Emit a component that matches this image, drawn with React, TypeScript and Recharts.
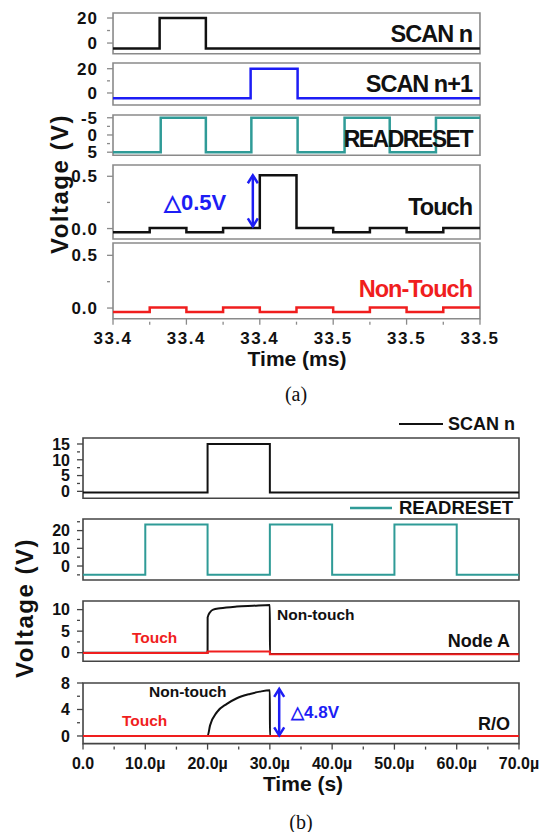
import React from "react";
import { LineChart, Line, XAxis, YAxis, ReferenceArea, ReferenceLine } from "recharts";

// ---------- (a) time in ms ----------
const aScanNT = [33.4, 33.4127, 33.4253, 33.5];
const aScanNV = [-4.3, 20, -4.3, -4.3];
const aScanN1T = [33.4, 33.4375, 33.4503, 33.5];
const aScanN1V = [-4.4, 20, -4.4, -4.4];
const aReadResetT = [33.4, 33.413, 33.4253, 33.4377, 33.4503, 33.4631, 33.4754, 33.488, 33.5];
const aReadResetV = [5, -5, 5, -5, 5, -5, 5, -5, -5];
const aStepT = [33.4, 33.41, 33.42, 33.43, 33.44, 33.45, 33.46, 33.47, 33.48, 33.49, 33.5];
const aTouchV = [-0.035, 0.005, -0.035, 0.005, 0.51, 0.005, -0.035, 0.005, -0.035, 0.005, 0.005];
const aNonTouchV = [-0.038, 0.005, -0.038, 0.005, -0.038, 0.005, -0.038, 0.005, -0.038, 0.005, 0.005];
const aTopTicks = [33.4187, 33.45, 33.4815];

// ---------- (b) time in µs ----------
const bScanT = [0, 20, 30, 70];
const bScanV = [-0.4, 15, -0.4, -0.4];
const bReadResetT = [0, 10, 20, 30, 40, 50, 60, 70];
const bReadResetV = [-5, 23.5, -5, 23.5, -5, 23.5, -5, -5];
const bNodeANonTouchT = [0, 20, 20.01, 20.4, 20.9, 22, 24.7, 27.3, 30, 30.01, 70];
const bNodeANonTouchV = [0, 0, 8.2, 9.4, 10, 10.3, 10.7, 10.9, 11.1, -0.3, -0.3];
const bNodeATouchT = [0, 20, 30, 70];
const bNodeATouchV = [-0.1, 0.25, -0.35, -0.35];
const bRONonTouchT = [0, 20, 20.4, 21.5, 23.1, 24.7, 26.8, 28.4, 30, 30.01, 70];
const bRONonTouchV = [0, 0, 1.6, 3.6, 4.85, 5.7, 6.35, 6.7, 6.9, 0, 0];
const bROTouchT = [0, 70];
const bROTouchV = [0, 0];
const bXTicks = [0, 5, 10, 15, 20, 25, 30, 35, 40, 45, 50, 55, 60, 65, 70];

const FONT = "'Liberation Sans', Arial, sans-serif";
const BLACK = "#111";
const BLUE = "#1d1df5";
const TEAL = "#2f9b97";
const RED = "#f01e1e";
const PAD = 12;

const pts = (t: number[], v: number[]) => t.map((x, i) => ({ t: x, v: v[i] }));

type Series = { data: { t: number; v: number }[]; color: string; width: number; curve: any };
type PanelProps = {
  left: number; right: number; top: number; bottom: number;
  xDomain: [number, number]; xTicks: number[]; xMajor: (v: number) => boolean;
  xLabel?: (v: number) => string; xFont?: number; xSpacing?: number;
  yDomain: [number, number]; yTicks: number[]; yMajor: number[]; yFmt: (v: number) => string;
  yFont: number; yGap: number; ySpacing?: number; reversed?: boolean;
  frame: string; series: Series[]; arrow?: { x: number; y1: number; y2: number };
};

const arrowShape = (p: any) => {
  const x = p.x1;
  const top = Math.min(p.y1, p.y2);
  const bot = Math.max(p.y1, p.y2);
  return (
    <g stroke={BLUE} strokeWidth={2.5} fill="none">
      <line x1={x} y1={top} x2={x} y2={bot} />
      <polyline points={`${x - 5},${top + 8} ${x},${top} ${x + 5},${top + 8}`} />
      <polyline points={`${x - 5},${bot - 8} ${x},${bot} ${x + 5},${bot - 8}`} />
    </g>
  );
};

const Panel = (p: PanelProps) => {
  const axisH = p.xLabel ? 34 : 0;
  const h = p.bottom - p.top + PAD * 2 + axisH;
  const XTick = (t: any) => {
    const v = t.payload.value;
    const major = p.xMajor(v);
    return (
      <g>
        <line x1={t.x} y1={t.y} x2={t.x} y2={t.y - (major ? 6 : 3)} stroke={p.frame} strokeWidth={1.3} />
        {p.xLabel && major && (
          <text x={t.x} y={t.y + 7} dy="0.75em" textAnchor="middle" fontFamily={FONT} fontWeight="bold"
            fontSize={p.xFont} letterSpacing={p.xSpacing || 0} fill={BLACK}>
            {p.xLabel(v)}
          </text>
        )}
      </g>
    );
  };
  const YTick = (t: any) => {
    const v = t.payload.value;
    const major = p.yMajor.includes(v);
    return (
      <g>
        <line x1={t.x} y1={t.y} x2={t.x + (major ? 6 : 3)} y2={t.y} stroke={p.frame} strokeWidth={1.3} />
        {major && (
          <text x={t.x - p.yGap} y={t.y} dy="0.36em" textAnchor="end" fontFamily={FONT} fontWeight="bold"
            fontSize={p.yFont} letterSpacing={p.ySpacing || 0} fill={BLACK}>
            {p.yFmt(v)}
          </text>
        )}
      </g>
    );
  };
  return (
    <div style={{ position: "absolute", left: 0, top: p.top - PAD }}>
      <LineChart width={553} height={h} margin={{ top: PAD, right: 553 - p.right, bottom: PAD, left: 0 }}>
        <XAxis type="number" dataKey="t" domain={p.xDomain} allowDataOverflow ticks={p.xTicks} interval={0}
          height={axisH} axisLine={false} tickLine={false} tickMargin={0} tick={XTick} />
        <YAxis type="number" dataKey="v" domain={p.yDomain} allowDataOverflow ticks={p.yTicks} interval={0}
          width={p.left} reversed={p.reversed} axisLine={false} tickLine={false} tickMargin={0} tick={YTick} />
        <ReferenceArea x1={p.xDomain[0]} x2={p.xDomain[1]} y1={p.yDomain[0]} y2={p.yDomain[1]}
          fill="none" stroke={p.frame} strokeWidth={1.6} ifOverflow="visible" />
        {p.series.map((s, i) => (
          <Line key={i} data={s.data} dataKey="v" type={s.curve} stroke={s.color} strokeWidth={s.width}
            dot={false} isAnimationActive={false} />
        ))}
        {p.arrow && (
          <ReferenceLine segment={[{ x: p.arrow.x, y: p.arrow.y1 }, { x: p.arrow.x, y: p.arrow.y2 }]}
            shape={arrowShape} ifOverflow="visible" />
        )}
      </LineChart>
    </div>
  );
};

const A = { left: 113, right: 480, frame: "#8a8a8a" };
const B = { left: 83, right: 519, frame: "#444" };

const aCommon = {
  ...A, xDomain: [33.4, 33.5] as [number, number], yFont: 17, yGap: 9, ySpacing: 1,
  xMajor: () => true, xTicks: aTopTicks,
};
const aStepMajor = (v: number) => Math.round((v - 33.4) / 0.01) % 2 === 0;
const intFmt = (v: number) => String(v);
const oneFmt = (v: number) => v.toFixed(1);

const bCommon = {
  ...B, xDomain: [0, 70] as [number, number], xTicks: bXTicks, yFont: 16, yGap: 7,
  xMajor: (v: number) => v % 10 === 0,
};

const T = (props: any) => (
  <text fontFamily={FONT} fontWeight="bold" fill={BLACK} {...props} />
);

export default function App() {
  return (
    <div style={{ position: "absolute", left: 0, top: 0, width: 553, height: 832, background: "#fff", overflow: "hidden" }}>
      {/* ----- (a) ----- */}
      <Panel {...aCommon} top={13.3} bottom={54} yDomain={[-8.5, 24]} yTicks={[0, 10, 20]} yMajor={[0, 20]} yFmt={intFmt}
        series={[{ data: pts(aScanNT, aScanNV), color: BLACK, width: 2.5, curve: "stepAfter" }]} />
      <Panel {...aCommon} top={63.3} bottom={105.3} yDomain={[-9.9, 24.7]} yTicks={[0, 10, 20]} yMajor={[0, 20]} yFmt={intFmt}
        series={[{ data: pts(aScanN1T, aScanN1V), color: BLUE, width: 2.5, curve: "stepAfter" }]} />
      <Panel {...aCommon} top={115} bottom={155.3} yDomain={[-5.8, 5.9]} reversed yTicks={[-5, -2.5, 0, 2.5, 5]} yMajor={[-5, 0, 5]}
        yFmt={intFmt} series={[{ data: pts(aReadResetT, aReadResetV), color: TEAL, width: 2.5, curve: "stepAfter" }]} />
      <Panel {...aCommon} top={164.7} bottom={238.7} yDomain={[-0.1, 0.608]} yTicks={[0, 0.25, 0.5]} yMajor={[0, 0.5]} yFmt={oneFmt}
        xTicks={aStepT} xMajor={aStepMajor}
        series={[{ data: pts(aStepT, aTouchV), color: BLACK, width: 2.5, curve: "stepAfter" }]}
        arrow={{ x: 33.4381, y1: 0.02, y2: 0.51 }} />
      <Panel {...aCommon} top={243.3} bottom={319} yDomain={[-0.101, 0.617]} yTicks={[0, 0.25, 0.5]} yMajor={[0, 0.5]} yFmt={oneFmt}
        xTicks={aStepT} xMajor={aStepMajor} xLabel={oneFmt} xFont={17} xSpacing={1.5}
        series={[{ data: pts(aStepT, aNonTouchV), color: RED, width: 2.5, curve: "stepAfter" }]} />

      {/* ----- (b) ----- */}
      <Panel {...bCommon} top={437.7} bottom={498} yDomain={[-2.2, 16.9]} yTicks={[0, 2.5, 5, 7.5, 10, 12.5, 15]} yMajor={[0, 5, 10, 15]}
        yFmt={intFmt} series={[{ data: pts(bScanT, bScanV), color: BLACK, width: 2, curve: "stepAfter" }]} />
      <Panel {...bCommon} top={519} bottom={580} yDomain={[-7.9, 26.55]} yTicks={[-5, 0, 5, 10, 15, 20, 25]} yMajor={[0, 10, 20]}
        yFmt={intFmt} series={[{ data: pts(bReadResetT, bReadResetV), color: TEAL, width: 2, curve: "stepAfter" }]} />
      <Panel {...bCommon} top={600.7} bottom={661} yDomain={[-2, 12]} yTicks={[0, 2.5, 5, 7.5, 10]} yMajor={[0, 5, 10]} yFmt={intFmt}
        series={[
          { data: pts(bNodeANonTouchT, bNodeANonTouchV), color: BLACK, width: 2, curve: "monotoneX" },
          { data: pts(bNodeATouchT, bNodeATouchV), color: RED, width: 2, curve: "stepAfter" },
        ]} />
      <Panel {...bCommon} top={682.7} bottom={743.3} yDomain={[-1.15, 8]} yTicks={[0, 2, 4, 6, 8]} yMajor={[0, 4, 8]} yFmt={intFmt}
        xLabel={(v) => (v === 0 ? "0.0" : `${v.toFixed(1)}\u00b5`)} xFont={16}
        series={[
          { data: pts(bRONonTouchT, bRONonTouchV), color: BLACK, width: 2, curve: "monotoneX" },
          { data: pts(bROTouchT, bROTouchV), color: RED, width: 2, curve: "linear" },
        ]}
        arrow={{ x: 31.5, y1: 0.1, y2: 7.1 }} />

      {/* ----- text ----- */}
      <svg width={553} height={832} style={{ position: "absolute", left: 0, top: 0, pointerEvents: "none" }}>
        <T x={472} y={42} fontSize={23.5} textAnchor="end" letterSpacing={-1}>SCAN n</T>
        <T x={472} y={92} fontSize={23.5} textAnchor="end" letterSpacing={-1}>SCAN n+1</T>
        <T x={472} y={147} fontSize={23} textAnchor="end" letterSpacing={-1.5}>READRESET</T>
        <T x={472} y={215} fontSize={23.5} textAnchor="end" letterSpacing={-1}>Touch</T>
        <T x={472} y={297} fontSize={23.5} textAnchor="end" letterSpacing={-1} fill={RED}>Non-Touch</T>
        <T x={164} y={210} fontSize={22} fill={BLUE}>△0.5V</T>
        <T x={60} y={184} fontSize={24} textAnchor="middle" letterSpacing={1.5} dy="0.35em" transform="rotate(-90 60 184)">Voltage (V)</T>
        <T x={297} y={366} fontSize={21} textAnchor="middle">Time (ms)</T>
        <text x={296} y={401} fontSize={20} textAnchor="middle" fontFamily="'Liberation Serif', 'Times New Roman', serif" fill={BLACK}>(a)</text>

        <line x1={399} y1={424} x2={443} y2={424} stroke={BLACK} strokeWidth={2} />
        <T x={448} y={430} fontSize={18}>SCAN n</T>
        <line x1={350} y1={508} x2={392} y2={508} stroke={TEAL} strokeWidth={2.5} />
        <T x={399} y={514} fontSize={18.5}>READRESET</T>
        <T x={277} y={620} fontSize={15.5}>Non-touch</T>
        <T x={132} y={643} fontSize={15.5} fill={RED}>Touch</T>
        <T x={510} y={647} fontSize={18} textAnchor="end">Node A</T>
        <T x={149} y={697} fontSize={15.5}>Non-touch</T>
        <T x={122} y={726} fontSize={15.5} fill={RED}>Touch</T>
        <T x={510} y={730} fontSize={18} textAnchor="end">R/O</T>
        <T x={291} y={718} fontSize={17} fill={BLUE}>△4.8V</T>
        <T x={25} y={608} fontSize={24} textAnchor="middle" letterSpacing={1.5} dy="0.35em" transform="rotate(-90 25 608)">Voltage (V)</T>
        <T x={303} y={791} fontSize={21} textAnchor="middle">Time (s)</T>
        <text x={301} y={829} fontSize={20} textAnchor="middle" fontFamily="'Liberation Serif', 'Times New Roman', serif" fill={BLACK}>(b)</text>
      </svg>
    </div>
  );
}
